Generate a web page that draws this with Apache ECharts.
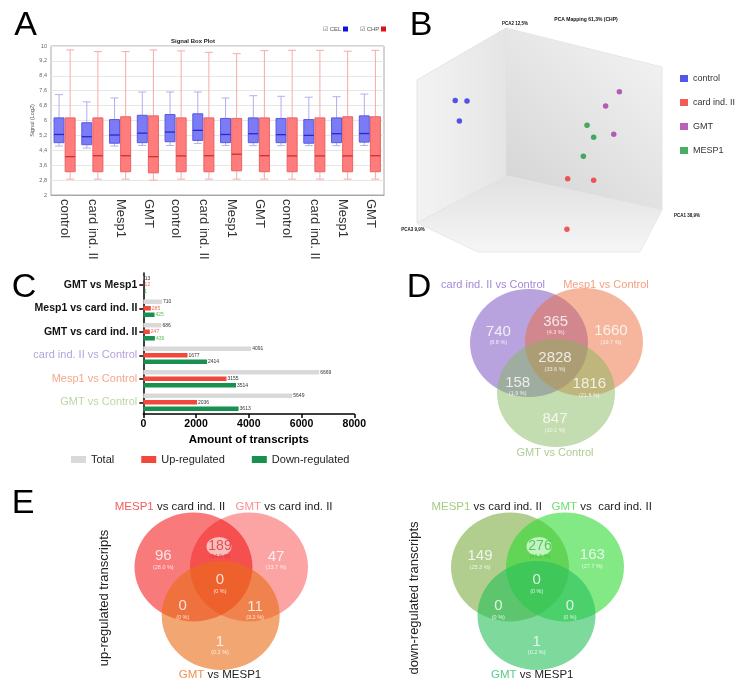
<!DOCTYPE html>
<html><head><meta charset="utf-8">
<script src="https://cdn.jsdelivr.net/npm/echarts@6/dist/echarts.min.js"></script>
<style>html,body{margin:0;padding:0;background:#fff}#c{width:739px;height:693px}</style>
</head><body><div id="c"></div>
<script>
// ---------- DATA ----------
// Panel A: signal box plot
const boxCategories = ['control','card ind. II','Mesp1','GMT','control','card ind. II','Mesp1','GMT','control','card ind. II','Mesp1','GMT'];
const celLow  = [4.63,4.52,4.63,4.66,4.66,4.77,4.66,4.65,4.65,4.65,4.65,4.66];
const celQ1   = [4.81,4.70,4.78,4.81,4.86,4.93,4.81,4.81,4.81,4.78,4.81,4.84];
const celMed  = [5.25,5.13,5.22,5.32,5.38,5.47,5.25,5.29,5.24,5.20,5.29,5.30];
const celQ3   = [6.14,5.88,6.05,6.28,6.32,6.36,6.11,6.14,6.11,6.05,6.14,6.25];
const celHigh = [7.39,7.00,7.21,7.53,7.53,7.53,7.21,7.33,7.30,7.25,7.28,7.42];
const chpLow  = [2.85,2.85,2.85,2.80,2.85,2.85,2.85,2.85,2.85,2.85,2.85,2.85];
const chpQ1   = [3.25,3.25,3.25,3.19,3.25,3.25,3.30,3.25,3.25,3.25,3.25,3.25];
const chpMed  = [4.06,4.11,4.11,4.06,4.10,4.11,4.19,4.11,4.10,4.10,4.10,4.11];
const chpQ3   = [6.14,6.14,6.20,6.25,6.14,6.14,6.11,6.14,6.14,6.14,6.20,6.20];
const chpHigh = [9.79,9.70,9.70,9.79,9.74,9.66,9.59,9.75,9.77,9.77,9.72,9.77];

// Panel B: PCA (projected positions, arbitrary units 0-100)
const pcaGroups  = ['control','card ind. II','GMT','MESP1'];
const pcaControl = [[15.6,67.3],[20.4,67.1],[17.3,58.1]];
const pcaCardInd = [[61.5,32.1],[72.1,31.4],[61.2,9.3]];
const pcaGMT     = [[82.6,71.3],[77.0,64.9],[80.3,52.1]];
const pcaMESP1   = [[69.4,56.2],[72.1,50.8],[67.9,42.2]];

// Panel C: differentially expressed transcripts
const comparisons = ['GMT vs Mesp1','Mesp1 vs card ind. II','GMT vs card ind. II','card ind. II vs Control','Mesp1 vs Control','GMT vs Control'];
const totalCounts = [13,710,686,4091,6669,5649];
const upCounts    = [12,285,247,1677,3155,2036];
const downCounts  = [1,425,439,2414,3514,3613];
const xTicksC = [0,2000,4000,6000,8000];

// Panels D/E: Venn region counts, order [A only, A∩B, B only, A∩B∩C, A∩C, B∩C, C only]
const vennDSets    = ['card ind. II vs Control','Mesp1 vs Control','GMT vs Control'];
const vennDCounts  = [740,365,1660,2828,158,1816,847];
const vennDPct     = ['8.8','4.3','19.7','33.6','1.9','21.6','10.1'];
const vennUpCounts = [96,189,47,0,0,11,1];
const vennUpPct    = ['28.0','54.9','13.7','0','0','3.2','0.2'];
const vennDnCounts = [149,276,163,0,0,0,1];
const vennDnPct    = ['25.3','46.8','27.7','0','0','0','0.2'];

// ---------- LAYOUT / STYLE ----------
const FF = 'Liberation Sans, Arial, sans-serif';
const vennLayout = {
  D:  {circles:[[529,343],[584,342],[556,393]], size:[118,108],
       labels:[[498.3,331.7],[555.7,321.7],[611,331],[555,358.3],[517.7,382.7],[589.3,384],[555,419]]},
  EU: {circles:[[193.5,567],[249,567],[220.7,615.5]], size:[118,109],
       labels:[[163.3,556],[220,545.5],[276,556.7],[220,580],[182.7,606],[255,606.7],[220,641.7]]},
  ED: {circles:[[510,567],[565,567],[536.5,615.5]], size:[118,109],
       labels:[[480,556],[540,545.5],[592.3,555],[536.7,580],[498.3,606],[570,606],[536.7,641.7]]}
};

function boxData(lo,q1,md,q3,hi){ return lo.map((v,i)=>[i,lo[i],q1[i],md[i],q3[i],hi[i]]); }
function boxRenderer(side, c){
  return function(params, api){
    const i = api.value(0);
    const pl = api.coord([i, api.value(1)]), p1 = api.coord([i, api.value(2)]),
          pm = api.coord([i, api.value(3)]), p3 = api.coord([i, api.value(4)]),
          ph = api.coord([i, api.value(5)]);
    const band = api.size([1,0])[0];
    const cx = pl[0] + side*band;
    const w = band*0.36, cap = w*0.8;
    const ls = {stroke:c.wh, lineWidth:1};
    return {type:'group', children:[
      {type:'line', shape:{x1:cx,y1:ph[1],x2:cx,y2:p3[1]}, style:ls},
      {type:'line', shape:{x1:cx,y1:p1[1],x2:cx,y2:pl[1]}, style:ls},
      {type:'line', shape:{x1:cx-cap/2,y1:ph[1],x2:cx+cap/2,y2:ph[1]}, style:ls},
      {type:'line', shape:{x1:cx-cap/2,y1:pl[1],x2:cx+cap/2,y2:pl[1]}, style:ls},
      {type:'rect', shape:{x:cx-w/2,y:p3[1],width:w,height:p1[1]-p3[1]}, style:{fill:c.fill,stroke:c.stroke,lineWidth:1}},
      {type:'line', shape:{x1:cx-w/2,y1:pm[1],x2:cx+w/2,y2:pm[1]}, style:{stroke:c.med,lineWidth:1.3}}
    ]};
  };
}

function vennCircleSeries(name, key, idx, color, blend){
  const L = vennLayout[key];
  const s = {name:name, type:'scatter', xAxisIndex:3, yAxisIndex:3, silent:true, symbol:'circle',
    symbolSize:L.size, data:[L.circles[idx]], itemStyle:{color:color}, z:2};
  if (blend) s.blendMode = blend;
  return s;
}
function vennLabelSeries(key, counts, pcts, special){
  const L = vennLayout[key];
  return {type:'scatter', xAxisIndex:3, yAxisIndex:3, silent:true, symbolSize:1, z:4,
    itemStyle:{color:'rgba(0,0,0,0)'},
    labelLayout:{hideOverlap:false},
    data: counts.map((c,i)=>{
      const d = {value:[L.labels[i][0], L.labels[i][1]+3.5], count:c, pct:pcts[i]};
      if (special && special.idx===i) d.label = {rich:{n:{fontSize:14,color:special.color,lineHeight:14,fontFamily:FF},p:{fontSize:5.5,color:special.color,lineHeight:6,fontFamily:FF}}};
      return d;
    }),
    label:{show:true, position:'inside', formatter:p=>'{n|'+p.data.count+'}\n{p|('+p.data.pct+' %)}',
      rich:{n:{fontSize:15,color:'#fff',lineHeight:15,fontFamily:FF},p:{fontSize:5.5,color:'#fff',lineHeight:7,fontFamily:FF}}}
  };
}

const compStyle = ['b','b','b','p','o','g'];
const lblColorsUp = ['#f06a5a','#f06a5a','#f06a5a','#333','#333','#333'];
const lblColorsDn = ['#55c055','#55c055','#55c055','#333','#333','#333'];

function txt(x,y,text,size,color,extra){
  return Object.assign({type:'text', x:x, y:y, silent:true, z:10,
    style:Object.assign({text:text, fontSize:size, fill:color, fontFamily:FF, align:'center', verticalAlign:'middle'}, extra||{})});
}

const graphics = [
  // cube panel B
  {type:'polygon', z:-1, shape:{points:[[417,80],[506,28],[506,176],[417,223]]},
   style:{fill:new echarts.graphic.LinearGradient(0,0,1,0,[{offset:0,color:'#f3f3f3'},{offset:1,color:'#e5e5e5'}]), stroke:'#e0e0e0', lineWidth:0.8}},
  {type:'polygon', z:-1, shape:{points:[[506,28],[662,67],[662,210],[506,176]]},
   style:{fill:new echarts.graphic.LinearGradient(0,1,1,0,[{offset:0,color:'#d3d3d3'},{offset:1,color:'#f5f5f5'}]), stroke:'#e2e2e2', lineWidth:0.8}},
  {type:'polygon', z:-1, shape:{points:[[417,223],[506,176],[662,210],[640,252],[478,252]]},
   style:{fill:new echarts.graphic.LinearGradient(0,0,0,1,[{offset:0,color:'#e0e0e0'},{offset:1,color:'#f6f6f6'}]), stroke:'#e4e4e4', lineWidth:0.8}},
  // panel letters
  txt(25.5,26,'A',34,'#000'), txt(421,25.5,'B',34,'#000'), txt(24,288,'C',34,'#000'),
  txt(419,288,'D',34,'#000'), txt(23,504,'E',34,'#000'),
  // panel A
  txt(193,41,'Signal Box Plot',6,'#222',{fontWeight:'bold'}),
  txt(323,29,'☑ CEL',6,'#555',{align:'left'}),
  {type:'rect', z:10, shape:{x:343,y:26.5,width:5,height:5}, style:{fill:'#1010e0'}},
  txt(360,29,'☑ CHP',6,'#555',{align:'left'}),
  {type:'rect', z:10, shape:{x:381,y:26.5,width:5,height:5}, style:{fill:'#e01010'}},
  // panel B texts
  txt(586,19.5,'PCA Mapping 61,3% (CHP)',5,'#111',{fontWeight:'bold'}),
  txt(515,24,'PCA2 12,5%',4.5,'#111',{fontWeight:'bold'}),
  txt(687,215.5,'PCA1 38,9%',4.5,'#111',{fontWeight:'bold'}),
  txt(413,230,'PCA3 9,9%',4.5,'#111',{fontWeight:'bold'}),
  // panel D titles
  txt(493,285,vennDSets[0],11,'#a08ad8'),
  txt(606,285,vennDSets[1],11,'#f4a080'),
  txt(555,453,vennDSets[2],11,'#aecd92'),
  // panel E titles
  txt(170,506.7,'{a|MESP1} vs card ind. II',11.5,'#222',{rich:{a:{fill:'#f25c5c',fontSize:11.5,fontFamily:FF}}}),
  txt(284,506.7,'{a|GMT} vs card ind. II',11.5,'#222',{rich:{a:{fill:'#f79090',fontSize:11.5,fontFamily:FF}}}),
  txt(220,675,'{a|GMT} vs MESP1',11.5,'#222',{rich:{a:{fill:'#f0904c',fontSize:11.5,fontFamily:FF}}}),
  txt(486.7,506.7,'{a|MESP1} vs card ind. II',11.5,'#222',{rich:{a:{fill:'#a6cc84',fontSize:11.5,fontFamily:FF}}}),
  txt(601.7,506.7,'{a|GMT} vs  card ind. II',11.5,'#222',{rich:{a:{fill:'#6fe070',fontSize:11.5,fontFamily:FF}}}),
  txt(532.3,675,'{a|GMT} vs MESP1',11.5,'#222',{rich:{a:{fill:'#5ec88a',fontSize:11.5,fontFamily:FF}}}),
  Object.assign(txt(104,598,'up-regulated transcripts',13,'#222'),{rotation:Math.PI/2}),
  Object.assign(txt(414.3,598,'down-regulated transcripts',13,'#222'),{rotation:Math.PI/2})
];

const option = {
  animation:false,
  textStyle:{fontFamily:FF},
  graphic:graphics,
  grid:[
    {left:51, top:46, width:333, height:149, show:true, borderColor:'#a8a8a8', borderWidth:1, backgroundColor:'#fff'},
    {left:417, top:28, width:245, height:222},
    {left:143.3, top:273, width:211, height:141},
    {left:0, top:0, width:739, height:693}
  ],
  xAxis:[
    {gridIndex:0, type:'category', data:boxCategories, axisTick:{show:false}, axisLine:{lineStyle:{color:'#a8a8a8'}},
     axisLabel:{rotate:-90, fontSize:13, color:'#333', margin:4, interval:0}},
    {gridIndex:1, type:'value', min:0, max:100, show:false},
    {gridIndex:2, type:'value', min:xTicksC[0], max:xTicksC[xTicksC.length-1], interval:2000,
     axisLine:{show:true, lineStyle:{color:'#000', width:1.5}}, axisTick:{show:true, length:4, lineStyle:{color:'#000', width:1.5}},
     splitLine:{show:false}, axisLabel:{fontSize:10.5, fontWeight:'bold', color:'#000', margin:5, formatter:v=>String(v)},
     name:'Amount of transcripts', nameLocation:'middle', nameGap:20, nameTextStyle:{fontSize:11.5, fontWeight:'bold', color:'#000'}},
    {gridIndex:3, type:'value', min:0, max:739, show:false}
  ],
  yAxis:[
    {gridIndex:0, type:'value', min:2, max:10, interval:0.8, axisLine:{show:false}, axisTick:{show:false},
     splitLine:{lineStyle:{color:'#e6e6e6'}},
     axisLabel:{fontSize:5.5, color:'#666', margin:4, formatter:v=>String(Math.round(v*10)/10).replace('.',',')},
     name:'Signal (Log2)', nameLocation:'middle', nameGap:13, nameTextStyle:{fontSize:5.5, color:'#555'}},
    {gridIndex:1, type:'value', min:0, max:100, show:false},
    {gridIndex:2, type:'category', data:comparisons, inverse:true,
     axisLine:{lineStyle:{color:'#000', width:1.5}}, axisTick:{show:true, alignWithLabel:true, length:4, lineStyle:{color:'#000', width:1.5}},
     axisLabel:{margin:6, formatter:(v,i)=>'{'+compStyle[i]+'|'+v+'}',
       rich:{b:{fontSize:10.5,fontWeight:'bold',color:'#111'},p:{fontSize:11,color:'#b3a3dc'},o:{fontSize:11,color:'#f4a88c'},g:{fontSize:11,color:'#bcd8a2'}}}},
    {gridIndex:3, type:'value', min:0, max:693, inverse:true, show:false}
  ],
  legend:[
    {data:['Total','Up-regulated','Down-regulated'], left:66, top:449, itemWidth:15, itemHeight:7, itemGap:27, icon:'rect',
     textStyle:{fontSize:11, color:'#222'}, selectedMode:false},
    {data:pcaGroups, orient:'vertical', left:680, top:74, padding:0, itemWidth:8, itemHeight:7, itemGap:15, icon:'rect',
     textStyle:{fontSize:9, color:'#333'}, selectedMode:false}
  ],
  series:[
    {name:'CEL', type:'custom', xAxisIndex:0, yAxisIndex:0, renderItem:boxRenderer(-0.21,{fill:'#7b7bf6',stroke:'#5858e4',med:'#2828c8',wh:'#b0b0f2'}),
     encode:{x:0,y:[1,2,3,4,5]}, data:boxData(celLow,celQ1,celMed,celQ3,celHigh), z:3},
    {name:'CHP', type:'custom', xAxisIndex:0, yAxisIndex:0, renderItem:boxRenderer(0.19,{fill:'#ff7c7c',stroke:'#ea6262',med:'#cc3030',wh:'#f6aaaa'}),
     encode:{x:0,y:[1,2,3,4,5]}, data:boxData(chpLow,chpQ1,chpMed,chpQ3,chpHigh), z:3},

    {name:'control', type:'scatter', xAxisIndex:1, yAxisIndex:1, symbolSize:5.5, data:pcaControl, itemStyle:{color:'#2b2be6'}},
    {name:'card ind. II', type:'scatter', xAxisIndex:1, yAxisIndex:1, symbolSize:5.5, data:pcaCardInd, itemStyle:{color:'#f03232'}},
    {name:'GMT', type:'scatter', xAxisIndex:1, yAxisIndex:1, symbolSize:5.5, data:pcaGMT, itemStyle:{color:'#a53aa5'}},
    {name:'MESP1', type:'scatter', xAxisIndex:1, yAxisIndex:1, symbolSize:5.5, data:pcaMESP1, itemStyle:{color:'#1c9a3c'}},

    {name:'Total', type:'bar', xAxisIndex:2, yAxisIndex:2, data:totalCounts, barWidth:4.5, barGap:'45%', itemStyle:{color:'#d9d9d9'},
     label:{show:true, position:'right', distance:1, fontSize:5, color:'#333'}},
    {name:'Up-regulated', type:'bar', xAxisIndex:2, yAxisIndex:2, barWidth:4.5, barGap:'45%', itemStyle:{color:'#f2473b'},
     data:upCounts.map((v,i)=>({value:v, label:{color:lblColorsUp[i]}})),
     label:{show:true, position:'right', distance:1, fontSize:5}},
    {name:'Down-regulated', type:'bar', xAxisIndex:2, yAxisIndex:2, barWidth:4.5, barGap:'45%', itemStyle:{color:'#179050'},
     data:downCounts.map((v,i)=>({value:v, label:{color:lblColorsDn[i]}})),
     label:{show:true, position:'right', distance:1, fontSize:5}},

    vennCircleSeries('vD0','D',0,'rgba(108,63,188,0.6)'),
    vennCircleSeries('vD1','D',1,'rgba(237,102,50,0.6)'),
    vennCircleSeries('vD2','D',2,'rgba(130,182,90,0.6)'),
    vennCircleSeries('vU0','EU',0,'#f75959'),
    vennCircleSeries('vU1','EU',1,'#fb8d8d','multiply'),
    vennCircleSeries('vU2','EU',2,'rgba(234,108,22,0.75)'),
    vennCircleSeries('vN0','ED',0,'#9ec272'),
    vennCircleSeries('vN1','ED',1,'rgba(46,219,51,0.75)'),
    vennCircleSeries('vN2','ED',2,'rgba(40,191,91,0.75)'),
    {type:'scatter', xAxisIndex:3, yAxisIndex:3, silent:true, z:3, symbol:'circle', symbolSize:[25,19],
     data:[{value:[219,546.5], itemStyle:{color:'rgba(250,226,226,0.95)'}},{value:[539,546.5], itemStyle:{color:'rgba(228,252,228,0.95)'}}]},
    vennLabelSeries('D', vennDCounts, vennDPct),
    vennLabelSeries('EU', vennUpCounts, vennUpPct, {idx:1, color:'#dd3535'}),
    vennLabelSeries('ED', vennDnCounts, vennDnPct, {idx:1, color:'#38c038'})
  ]
};
const chart = echarts.init(document.getElementById('c'), null, {renderer:'canvas'});
chart.setOption(option);
</script></body></html>
